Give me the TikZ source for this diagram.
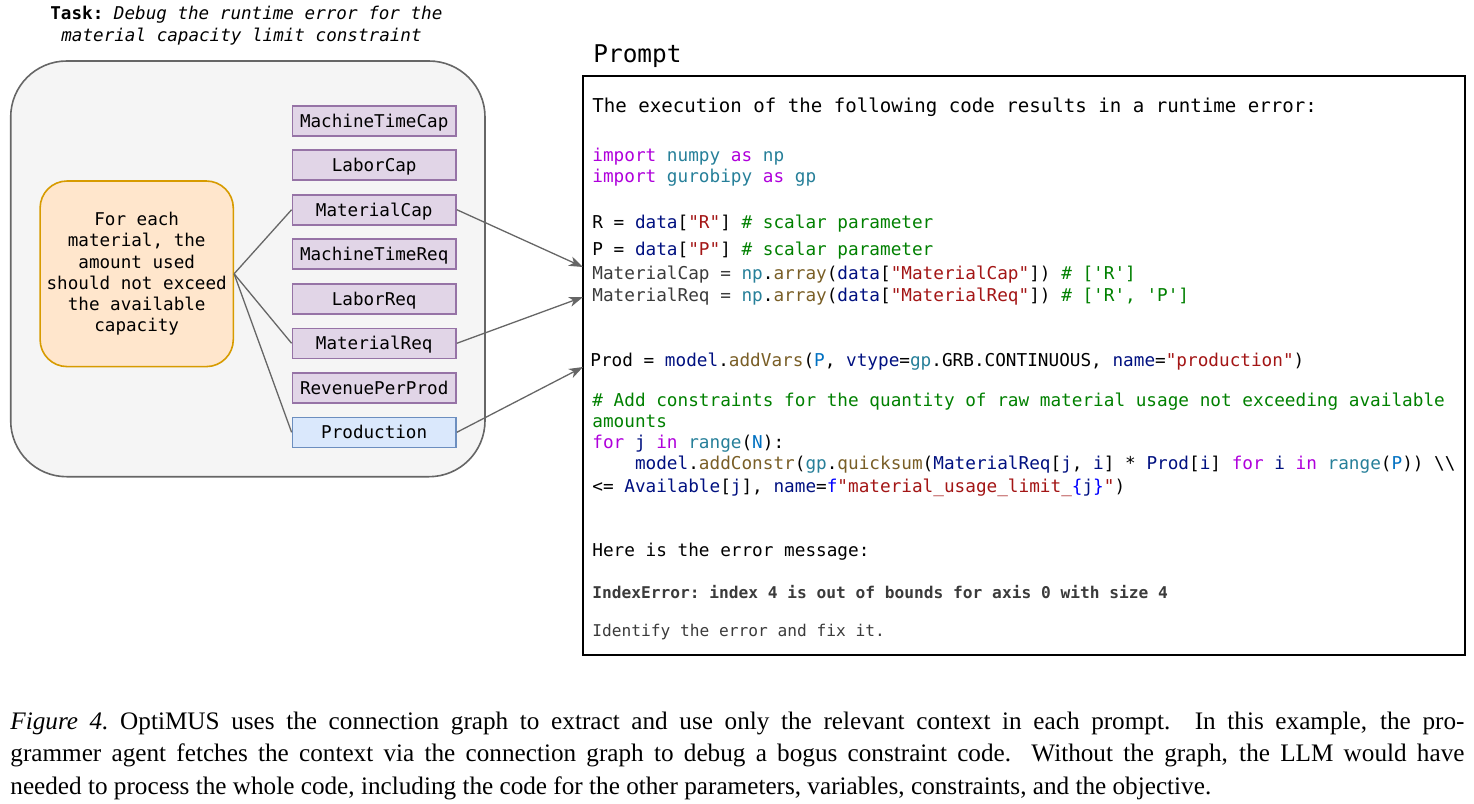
\documentclass[tikz,border=0pt]{standalone}
\usepackage{fontspec}
\setmainfont{Liberation Serif}
\setmonofont{DejaVu Sans Mono}
\usetikzlibrary{arrows.meta}

% Colori dei blocchi (stile draw.io)
\definecolor{groupfill}{HTML}{F5F5F5}
\definecolor{groupline}{HTML}{666666}
\definecolor{consfill}{HTML}{FFE6CC}
\definecolor{consline}{HTML}{D79B00}
\definecolor{paramfill}{HTML}{E1D5E7}
\definecolor{paramline}{HTML}{9673A6}
\definecolor{varfill}{HTML}{DAE8FC}
\definecolor{varline}{HTML}{6C8EBF}

% Colori della sintassi del codice
\definecolor{kwc}{HTML}{AF00DB}
\definecolor{tyc}{HTML}{267F99}
\definecolor{vac}{HTML}{001080}
\definecolor{stc}{HTML}{A31515}
\definecolor{cmc}{HTML}{008000}
\definecolor{fnc}{HTML}{795E26}
\definecolor{cnc}{HTML}{0070C1}
\definecolor{fpc}{HTML}{0000FF}
\definecolor{dtc}{HTML}{3B3B3B}
\newcommand{\ckw}[1]{\textcolor{kwc}{#1}}
\newcommand{\cty}[1]{\textcolor{tyc}{#1}}
\newcommand{\cva}[1]{\textcolor{vac}{#1}}
\newcommand{\cst}[1]{\textcolor{stc}{#1}}
\newcommand{\ccm}[1]{\textcolor{cmc}{#1}}
\newcommand{\cfn}[1]{\textcolor{fnc}{#1}}
\newcommand{\ccn}[1]{\textcolor{cnc}{#1}}
\newcommand{\cfp}[1]{\textcolor{fpc}{#1}}

\begin{document}
\begin{tikzpicture}[x=0.5pt, y=-0.5pt,
    lblfont/.style={font=\ttfamily\fontsize{8.8}{10.65}\selectfont},
    param/.style={draw=paramline, fill=paramfill, line width=0.8pt, minimum width=81.8pt,
        minimum height=15pt, inner sep=0pt, text height=6.4pt, text depth=0pt, lblfont},
    var/.style={param, draw=varline, fill=varfill},
    link/.style={groupline, line width=0.65pt},
    feed/.style={link, -{Stealth[length=7pt, width=5pt, inset=2pt]}},
    code/.style={anchor=base west, inner sep=0pt,
        font=\ttfamily\fontsize{8.85}{10}\selectfont\frenchspacing},
    msg/.style={code, font=\ttfamily\fontsize{8.1}{10}\selectfont\frenchspacing, text=dtc}]

    \useasboundingbox (0,0) rectangle (1474,804);

    % Titolo del compito
    \node[anchor=base west, inner sep=0pt, lblfont] (task1) at (50,19)
        {\textbf{Task:} \textit{Debug the runtime error for the}};
    \node[anchor=base west, inner sep=0pt, lblfont] (task2) at (61,41)
        {\textit{material capacity limit constraint}};

    % Grafo delle connessioni
    \draw[groupline, fill=groupfill, line width=0.8pt, rounded corners=28pt]
        (10.7,61) rectangle (485,476.7);

    \node[draw=consline, fill=consfill, line width=0.8pt, rounded corners=13.5pt,
        minimum width=96.6pt, minimum height=92.8pt, inner sep=0pt, align=center, lblfont]
        (cons) at (136.7,273.8)
        {For each\\material, the\\amount used\\should not exceed\\the available\\capacity};

    \foreach \name/\y in {MachineTimeCap/120.7, LaborCap/165.2, MaterialCap/209.7,
        MachineTimeReq/254.2, LaborReq/298.8, MaterialReq/343.3, RevenuePerProd/387.8} {
        \node[param] (\name) at (374.2,\y) {\name};
    }
    \node[var] (Production) at (374.2,432.3) {Production};

    \foreach \p in {MaterialCap, MaterialReq, Production} {
        \draw[link] (cons.east) -- (\p.west);
    }

    % Riquadro del prompt
    \node[anchor=base west, inner sep=0pt, font=\ttfamily\fontsize{12.2}{14}\selectfont]
        (title) at (593,62) {Prompt};
    \node[draw=black, line width=0.75pt, minimum width=441pt, minimum height=289.5pt,
        inner sep=0pt] (prompt) at (1024,365.5) {};

    \coordinate (capIn) at (583,267);
    \coordinate (reqIn) at (583,297);
    \coordinate (prodIn) at (583,367);
    \draw[feed] (MaterialCap.east) -- (capIn);
    \draw[feed] (MaterialReq.east) -- (reqIn);
    \draw[feed] (Production.east) -- (prodIn);

    % Righe di codice
    \node[code, font=\ttfamily\fontsize{9.55}{10}\selectfont] (c1) at (592,112)
        {The execution of the following code results in a runtime error:};
    \node[code] (c2) at (592,161) {\ckw{import} \cty{numpy} \ckw{as} \cty{np}};
    \node[code] (c3) at (592,182) {\ckw{import} \cty{gurobipy} \ckw{as} \cty{gp}};
    \node[code] (c4) at (592,228) {R = \cva{data}[\cst{"R"}] \ccm{\# scalar parameter}};
    \node[code] (c5) at (592,255) {P = \cva{data}[\cst{"P"}] \ccm{\# scalar parameter}};
    \node[code] (c6) at (592,279)
        {\textcolor{dtc}{MaterialCap =} \cty{np}.\cfn{array}(\cva{data}[\cst{"MaterialCap"}]) \ccm{\# ['R']}};
    \node[code] (c7) at (592,301)
        {\textcolor{dtc}{MaterialReq =} \cty{np}.\cfn{array}(\cva{data}[\cst{"MaterialReq"}]) \ccm{\# ['R', 'P']}};
    \node[code] (c8) at (590,366)
        {Prod = \cva{model}.\cfn{addVars}(\ccn{P}, \cva{vtype}=\cty{gp}.GRB.CONTINUOUS, \cva{name}=\cst{"production"})};
    \node[code] (c9) at (592,406)
        {\ccm{\# Add constraints for the quantity of raw material usage not exceeding available}};
    \node[code] (c10) at (592,427) {\ccm{amounts}};
    \node[code] (c11) at (592,448) {\ckw{for} \cva{j} \ckw{in} \cty{range}(\ccn{N}):};
    \node[code] (c12) at (592,469)
        {\hphantom{xxxx}\cva{model}.\cfn{addConstr}(\cty{gp}.\cfn{quicksum}(\cva{MaterialReq}[\cva{j}, \cva{i}] * \cva{Prod}[\cva{i}] \ckw{for} \cva{i} \ckw{in} \cty{range}(\ccn{P})) \textbackslash\textbackslash};
    \node[code] (c13) at (592,492)
        {<= \cva{Available}[\cva{j}], \cva{name}=\cfp{f}\cst{"material\_usage\_limit\_}\cfp{\{}\cva{j}\cfp{\}}\cst{"})};
    \node[code] (c14) at (592,556) {Here is the error message:};
    \node[msg] (c15) at (592,598)
        {\textbf{IndexError: index 4 is out of bounds for axis 0 with size 4}};
    \node[msg] (c16) at (592,636) {Identify the error and fix it.};

    % Didascalia
    \node[anchor=north west, inner sep=0pt, text width=727pt, align=justify,
        font=\fontsize{12.6}{16.25}\selectfont] (caption) at (10,711.5)
        {\textit{Figure 4.}\ OptiMUS uses the connection graph to extract and use only the relevant context in each prompt. In this example, the pro-\linebreak grammer agent fetches the context via the connection graph to debug a bogus constraint code. Without the graph, the LLM would have\linebreak needed to process the whole code, including the code for the other parameters, variables, constraints, and the objective.};

\end{tikzpicture}
\end{document}
